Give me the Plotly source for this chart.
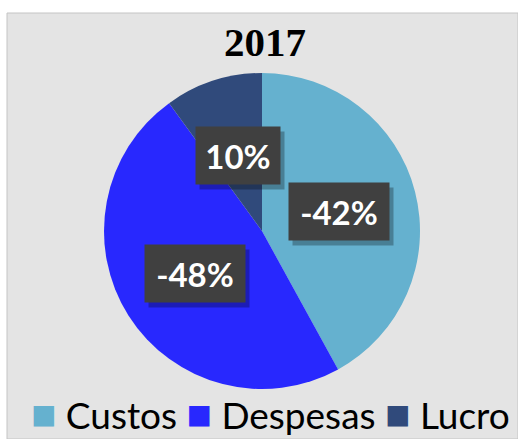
import math
import plotly.graph_objects as go

categorias = ["Custos", "Despesas", "Lucro"]
valores = [-42, -48, 10]          # percentages as shown in the labels
cores = ["#65b1cf", "#2828fe", "#304a7b"]
titulo = "2017"

W, H = 518, 439
CX, CY, R = 262, 231, 158  # pie center / radius in px

dom_x = [(CX - R) / W, (CX + R) / W]
dom_y = [1 - (CY + R) / H, 1 - (CY - R) / H]

fig = go.Figure()
fig.add_trace(go.Pie(
    labels=categorias,
    values=[abs(v) for v in valores],
    marker=dict(colors=cores, line=dict(width=0)),
    sort=False,
    direction="clockwise",
    rotation=0,
    textinfo="none",
    hoverinfo="label+percent",
    showlegend=False,
    domain=dict(x=dom_x, y=dom_y),
))

# data labels placed at half radius on each slice's mid-angle
total = sum(abs(v) for v in valores)
cum = 0
annotations = []
shadows = []
for v in valores:
    a = abs(v)
    mid = (cum + a / 2) / total * 2 * math.pi
    cum += a
    dx = 0.5 * R * math.sin(mid)
    dy = 0.5 * R * math.cos(mid)
    x = (CX + dx) / W
    y = 1 - (CY - dy) / H
    txt = f"{v}%"
    bw = 16 * len(txt) + 16
    common = dict(x=x, y=y, xref="paper", yref="paper", showarrow=False,
                  borderpad=10, height=37, width=bw)
    shadows.append(dict(common, text="&nbsp;", xshift=4, yshift=-5,
                        bgcolor="rgba(0,0,0,0.28)",
                        font=dict(family="Lato", size=10,
                                  color="rgba(0,0,0,0)")))
    annotations.append(dict(common, text=txt, bgcolor="#404040",
                            font=dict(family="Lato", size=33, weight="bold",
                                      color="white")))

# legend row
leg_parts = [
    f"<span style='color:{c};font-size:42px'>■</span> {n}"
    for n, c in zip(categorias, cores)
]
legend_ann = dict(
    x=270 / W, y=1 - 413 / H, xref="paper", yref="paper", showarrow=False,
    text=" ".join(leg_parts), xanchor="center", yanchor="middle",
    font=dict(family="Lato", size=37, color="black"),
)

fig.update_layout(
    width=W, height=H,
    margin=dict(l=0, r=0, t=0, b=0),
    paper_bgcolor="white",
    plot_bgcolor="white",
    title=dict(text=f"<b>{titulo}</b>", x=265 / W, xanchor="center",
               y=1 - 42 / H, yanchor="middle",
               font=dict(family="Liberation Serif", size=41, color="black")),
    shapes=[dict(type="rect", xref="paper", yref="paper",
                 x0=7 / W, x1=1, y0=0, y1=1 - 13 / H,
                 fillcolor="#e4e4e4", line=dict(color="#c4c4c4", width=1),
                 layer="below")],
    annotations=shadows + annotations + [legend_ann],
)

fig.write_html("out.html",
               config={"displayModeBar": False},
               post_script="document.body.style.margin='0';document.body.style.overflow='hidden';")
